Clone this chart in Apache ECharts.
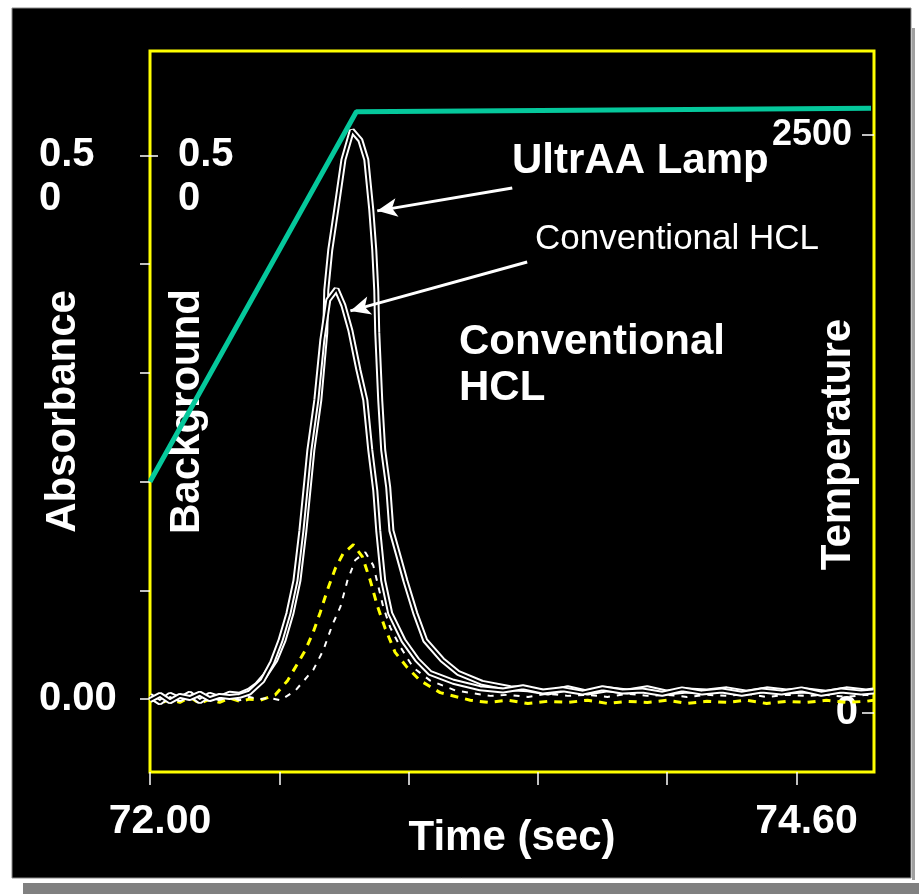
<!DOCTYPE html>
<html>
<head>
<meta charset="utf-8">
<script src="https://cdn.jsdelivr.net/npm/echarts@6/dist/echarts.min.js"></script>
<style>
  html, body { margin: 0; padding: 0; background: #fff; }
  #chart { width: 919px; height: 894px; }
</style>
</head>
<body>
<div id="chart"></div>
<script>
// axis ticks / labels
var timeTicks = [72.00, 72.52, 73.04, 73.56, 74.08, 74.60];
var timeLabels = [72.00, 74.60];
var absTicks = [0, 0.1, 0.2, 0.3, 0.4, 0.5];
var absLabels = [0, 0.5];
var bgLabels = [0.5];
var tempLabels = [0, 2500];

// UltrAA Lamp absorbance  [time (s), abs]
var ultraLamp = [
  [72.00,0.003],[72.04,-0.003],[72.08,0.004],[72.12,0.000],[72.16,0.005],[72.20,-0.002],
  [72.24,0.004],[72.28,0.001],[72.32,0.005],[72.36,0.004],[72.40,0.008],[72.43,0.013],
  [72.464,0.022],[72.504,0.036],[72.537,0.054],[72.569,0.079],[72.597,0.109],[72.621,0.155],
  [72.641,0.201],[72.653,0.229],[72.681,0.275],[72.705,0.337],[72.709,0.376],[72.725,0.413],
  [72.749,0.450],[72.778,0.496],[72.812,0.523],[72.846,0.514],[72.870,0.496],[72.890,0.450],
  [72.902,0.413],[72.910,0.376],[72.914,0.337],[72.926,0.275],[72.938,0.229],[72.958,0.195],
  [72.971,0.155],[73.027,0.109],[73.067,0.079],[73.107,0.054],[73.176,0.036],[73.240,0.024],
  [73.336,0.015],[73.449,0.010],[73.52,0.009],[73.60,0.006],[73.68,0.010],[73.76,0.006],
  [73.84,0.009],[73.92,0.007],[74.00,0.010],[74.08,0.006],[74.16,0.008],[74.24,0.007],
  [74.32,0.009],[74.40,0.006],[74.48,0.009],[74.56,0.007],[74.64,0.008],[74.72,0.006],
  [74.80,0.009],[74.88,0.007],[74.91,0.008]
];

// Conventional HCL absorbance
var conventionalHCL = [
  [72.00,-0.001],[72.04,0.004],[72.08,-0.002],[72.12,0.003],[72.16,0.001],[72.20,0.005],
  [72.24,0.000],[72.28,0.003],[72.32,0.002],[72.36,0.003],[72.40,0.006],[72.452,0.017],
  [72.492,0.034],[72.525,0.054],[72.557,0.079],[72.585,0.109],[72.609,0.155],[72.629,0.201],
  [72.641,0.229],[72.669,0.275],[72.693,0.330],[72.717,0.367],[72.750,0.377],[72.778,0.362],
  [72.806,0.339],[72.838,0.303],[72.866,0.275],[72.886,0.229],[72.906,0.192],[72.918,0.155],
  [72.938,0.109],[72.966,0.079],[73.019,0.054],[73.075,0.036],[73.127,0.024],[73.220,0.016],
  [73.328,0.010],[73.42,0.008],[73.50,0.011],[73.58,0.007],[73.66,0.009],[73.74,0.006],
  [73.82,0.010],[73.90,0.007],[73.98,0.008],[74.06,0.005],[74.14,0.009],[74.22,0.006],
  [74.30,0.008],[74.38,0.005],[74.46,0.008],[74.54,0.006],[74.62,0.009],[74.70,0.005],
  [74.78,0.008],[74.86,0.006],[74.91,0.007]
];

// background signal (yellow dashed)
var backgroundA = [
  [72.00,0.001],[72.04,-0.004],[72.08,0.000],[72.12,-0.003],[72.16,0.002],[72.20,-0.004],
  [72.24,0.000],[72.28,-0.003],[72.32,0.001],[72.36,-0.002],[72.40,0.000],[72.444,-0.001],
  [72.504,0.004],[72.553,0.017],[72.589,0.031],[72.625,0.045],[72.657,0.062],[72.685,0.080],
  [72.713,0.100],[72.745,0.120],[72.777,0.134],[72.818,0.142],[72.854,0.131],[72.886,0.109],
  [72.914,0.086],[72.946,0.065],[72.986,0.043],[73.035,0.029],[73.087,0.017],[73.167,0.006],
  [73.288,-0.001],[73.36,-0.003],[73.44,-0.001],[73.52,-0.004],[73.60,-0.002],[73.68,-0.003],
  [73.76,-0.001],[73.84,-0.004],[73.92,-0.002],[74.00,-0.003],[74.08,-0.001],[74.16,-0.004],
  [74.24,-0.002],[74.32,-0.003],[74.40,-0.001],[74.48,-0.004],[74.56,-0.002],[74.64,-0.003],
  [74.72,-0.001],[74.80,-0.003],[74.88,-0.002],[74.91,-0.001]
];

// background signal (white dashed)
var backgroundB = [
  [72.00,0.002],[72.04,-0.001],[72.08,0.003],[72.12,0.000],[72.16,0.002],[72.20,-0.002],
  [72.24,0.003],[72.28,0.000],[72.32,0.002],[72.36,-0.001],[72.40,0.002],[72.44,0.000],
  [72.48,0.001],[72.525,-0.001],[72.585,0.008],[72.657,0.027],[72.697,0.045],[72.733,0.068],
  [72.766,0.085],[72.794,0.109],[72.826,0.128],[72.866,0.135],[72.898,0.123],[72.938,0.085],
  [72.966,0.066],[73.007,0.048],[73.059,0.029],[73.127,0.017],[73.228,0.008],[73.368,0.003],
  [73.44,0.004],[73.52,0.002],[73.60,0.005],[73.68,0.003],[73.76,0.004],[73.84,0.002],
  [73.92,0.005],[74.00,0.003],[74.08,0.004],[74.16,0.002],[74.24,0.004],[74.32,0.003],
  [74.40,0.005],[74.48,0.002],[74.56,0.004],[74.64,0.003],[74.72,0.004],[74.80,0.002],
  [74.88,0.004],[74.91,0.003]
];

// furnace temperature program
var temperature = [[72.00,1000],[72.83,2600],[74.90,2615]];

// annotation arrows (from label to curve), data units
var arrowUltra = [[73.457,0.470],[72.914,0.449]];
var arrowConv = [[73.517,0.402],[72.806,0.357]];

var FONT = "'Liberation Sans', Arial, sans-serif";
var chart = echarts.init(document.getElementById('chart'));

function absFmt(v) {
  return v === 0 ? '0.00' : '\n0.5\n0';
}

var nameStyle = { color: '#fff', fontSize: 42, fontWeight: 'bold', fontFamily: FONT };

var option = {
  backgroundColor: '#ffffff',
  animation: false,
  grid: {
    left: 150, right: 45, top: 51, bottom: 122,
    containLabel: false, outerBoundsMode: 'none',
    show: true, borderColor: '#ffff00', borderWidth: 3, backgroundColor: 'transparent'
  },
  xAxis: {
    type: 'value', min: 72, max: 74.912,
    axisLine: { show: false, onZero: false },
    splitLine: { show: false },
    axisTick: { customValues: timeTicks, length: 13, lineStyle: { color: '#fff', width: 1.5 } },
    axisLabel: {
      customValues: timeLabels, margin: 29, padding: [0, 0, 0, 20],
      color: '#fff', fontSize: 41, fontWeight: 'bold', fontFamily: FONT,
      formatter: function (v) { return v.toFixed(2); }
    },
    name: 'Time (sec)', nameLocation: 'middle', nameGap: 45, nameMoveOverlap: false,
    nameTextStyle: nameStyle
  },
  yAxis: [
    {
      type: 'value', min: -0.067, max: 0.596, position: 'left',
      axisLine: { show: false, onZero: false }, splitLine: { show: false },
      axisTick: { customValues: absTicks, length: 10, lineStyle: { color: '#fff', width: 1.5 } },
      axisLabel: {
        customValues: absLabels, margin: 111, align: 'left', lineHeight: 44,
        color: '#fff', fontSize: 40, fontWeight: 'bold', fontFamily: FONT, formatter: absFmt
      },
      name: 'Absorbance', nameLocation: 'middle', nameGap: 66, nameMoveOverlap: false,
      nameTextStyle: nameStyle
    },
    {
      type: 'value', min: -0.067, max: 0.596, position: 'left', offset: 0,
      axisLine: { show: false, onZero: false }, splitLine: { show: false },
      axisTick: { inside: true, customValues: bgLabels, length: 8, lineStyle: { color: '#fff', width: 1.5 } },
      axisLabel: {
        inside: true, customValues: bgLabels, margin: 28, lineHeight: 44,
        color: '#fff', fontSize: 40, fontWeight: 'bold', fontFamily: FONT, formatter: absFmt
      },
      name: 'Background', nameLocation: 'middle', nameGap: -58, nameMoveOverlap: false,
      nameTextStyle: nameStyle
    },
    {
      type: 'value', min: -255, max: 2863, position: 'right',
      axisLine: { show: false, onZero: false }, splitLine: { show: false },
      axisTick: { inside: true, customValues: tempLabels, length: 12, lineStyle: { color: '#fff', width: 1.5 } },
      axisLabel: {
        inside: true, customValues: tempLabels, margin: 16,
        color: '#fff', fontWeight: 'bold', fontFamily: FONT,
        formatter: function (v) { return v === 0 ? '{b|0}' : '{s|' + v + '}'; },
        rich: {
          b: { fontSize: 40, fontWeight: 'bold', fontFamily: FONT, color: '#fff' },
          s: { fontSize: 36, fontWeight: 'bold', fontFamily: FONT, color: '#fff', padding: [0, 6, 0, 0] }
        }
      },
      name: 'Temperature', nameLocation: 'middle', nameGap: -57, nameMoveOverlap: false,
      nameTextStyle: { color: '#fff', fontSize: 42, fontWeight: 'bold', fontFamily: FONT, padding: [0, 66, 0, 0] }
    }
  ],
  series: [
    {
      name: 'Background A', type: 'line', yAxisIndex: 1, data: backgroundA,
      showSymbol: false, silent: true, z: 2,
      lineStyle: { color: '#ffff00', width: 3, type: [8, 7] }
    },
    {
      name: 'Background B', type: 'line', yAxisIndex: 1, data: backgroundB,
      showSymbol: false, silent: true, z: 2,
      lineStyle: { color: '#ffffff', width: 2, type: [6, 7] }
    },
    {
      name: 'UltrAA Lamp', type: 'line', yAxisIndex: 0, data: ultraLamp,
      showSymbol: false, silent: true, z: 3,
      lineStyle: { color: '#ffffff', width: 6 },
      markLine: {
        silent: true, symbol: ['none', 'arrow'], symbolSize: [14, 20],
        label: { show: false },
        lineStyle: { color: '#ffffff', width: 3, type: 'solid' },
        data: [
          [{ coord: arrowUltra[0] }, { coord: arrowUltra[1] }],
          [{ coord: arrowConv[0] }, { coord: arrowConv[1] }]
        ]
      }
    },
    {
      name: 'UltrAA inner', type: 'line', yAxisIndex: 0, data: ultraLamp,
      showSymbol: false, silent: true, z: 3,
      lineStyle: { color: '#000000', width: 2 }
    },
    {
      name: 'Conventional HCL', type: 'line', yAxisIndex: 0, data: conventionalHCL,
      showSymbol: false, silent: true, z: 3,
      lineStyle: { color: '#ffffff', width: 6 }
    },
    {
      name: 'Conventional inner', type: 'line', yAxisIndex: 0, data: conventionalHCL,
      showSymbol: false, silent: true, z: 3,
      lineStyle: { color: '#000000', width: 2 }
    },
    {
      name: 'Temperature', type: 'line', yAxisIndex: 2, data: temperature,
      showSymbol: false, silent: true, z: 4,
      lineStyle: { color: '#05c89c', width: 5 }
    }
  ],
  graphic: [
    { type: 'rect', z: -10, silent: true, shape: { x: 12, y: 8, width: 899, height: 870 },
      style: { fill: '#000000', stroke: '#8a8a8a', lineWidth: 1 } },
    { type: 'rect', z: -10, silent: true, shape: { x: 912, y: 28, width: 3, height: 852 },
      style: { fill: '#a0a0a0' } },
    { type: 'rect', z: -10, silent: true, shape: { x: 23, y: 883, width: 896, height: 11 },
      style: { fill: '#808080' } },
    { type: 'text', z: 50, silent: true, x: 512, y: 161,
      style: { text: 'UltrAA Lamp', fill: '#fff', fontSize: 42, fontWeight: 'bold', fontFamily: FONT,
               align: 'left', verticalAlign: 'middle' } },
    { type: 'text', z: 50, silent: true, x: 535, y: 239,
      style: { text: 'Conventional HCL', fill: '#fff', fontSize: 35, fontFamily: FONT,
               align: 'left', verticalAlign: 'middle' } },
    { type: 'text', z: 50, silent: true, x: 459, y: 319,
      style: { text: 'Conventional\nHCL', fill: '#fff', fontSize: 42, fontWeight: 'bold', fontFamily: FONT,
               lineHeight: 46, align: 'left', verticalAlign: 'top' } }
  ]
};

chart.setOption(option);
</script>
</body>
</html>
